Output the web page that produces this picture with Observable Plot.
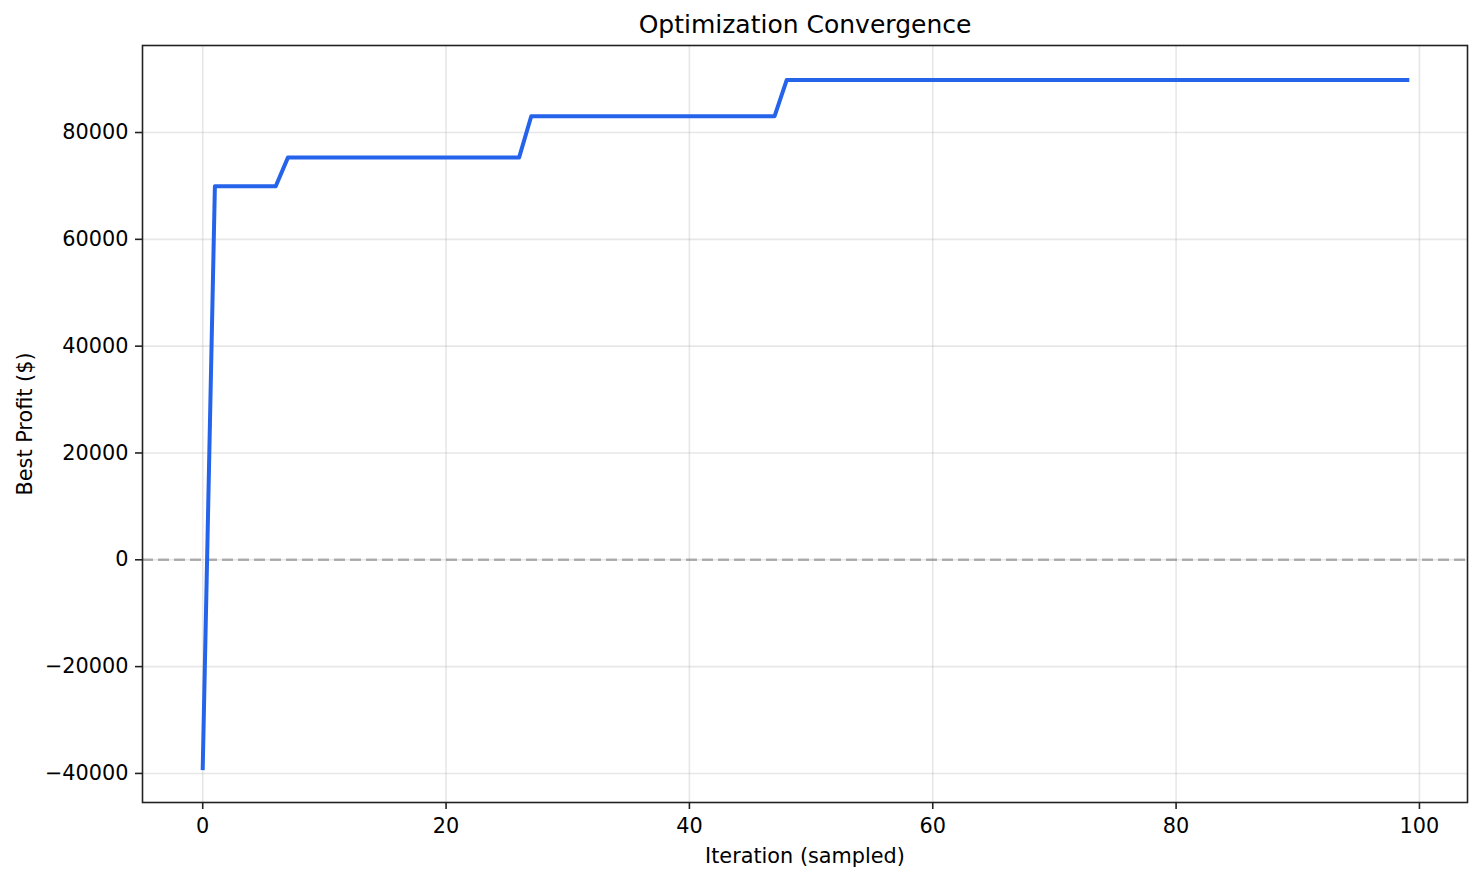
<!DOCTYPE html>
<html>
<head>
<meta charset="utf-8">
<script src="https://cdn.jsdelivr.net/npm/d3@7"></script>
<script src="https://cdn.jsdelivr.net/npm/@observablehq/plot@0.6"></script>
<style>
  html, body { margin: 0; padding: 0; background: #fff; }
  #chart { width: 1482px; height: 883px; }
</style>
</head>
<body>
<div id="chart"></div>
<script>
// Breakpoints of the best-profit curve (iteration, best profit)
const iterations = [0, 1, 6, 7, 26, 27, 47, 48, 99];
const bestProfit = [-39000, 69950, 69950, 75300, 75300, 83050, 83050, 89850, 89850];
const xTicks = [0, 20, 40, 60, 80, 100];
const yTicks = [-40000, -20000, 0, 20000, 40000, 60000, 80000];
const titleText = "Optimization Convergence";
const xLabel = "Iteration (sampled)";
const yLabel = "Best Profit ($)";

const data = iterations.map((x, i) => ({x, y: bestProfit[i]}));

const xMin = d3.min(iterations), xMax = d3.max(iterations);
const yMin = d3.min(bestProfit), yMax = d3.max(bestProfit);
const xm = (xMax - xMin) * 0.05, ym = (yMax - yMin) * 0.05;

const fmt = d => d < 0 ? "\u2212" + (-d) : String(d);

const chart = Plot.plot({
  width: 1482,
  height: 883,
  marginLeft: 142,
  marginRight: 15,
  marginTop: 45,
  marginBottom: 81,
  style: {fontFamily: "DejaVu Sans", fontSize: "20.8px", color: "#000", background: "#fff"},
  x: {domain: [xMin - xm, xMax + xm]},
  y: {domain: [yMin - ym, yMax + ym]},
  marks: [
    Plot.gridX(xTicks, {stroke: "#b0b0b0", strokeOpacity: 0.3, strokeWidth: 1.6}),
    Plot.gridY(yTicks, {stroke: "#b0b0b0", strokeOpacity: 0.3, strokeWidth: 1.6}),
    Plot.ruleY([0], {stroke: "#808080", strokeOpacity: 0.6, strokeWidth: 2.5, strokeDasharray: "11,5"}),
    Plot.line(data, {x: "x", y: "y", stroke: "#2563eb", strokeWidth: 4, strokeLinecap: "square", strokeLinejoin: "round"}),
    Plot.frame({stroke: "#222", strokeWidth: 1.6}),
    Plot.axisX(xTicks, {tickSize: 7, tickPadding: 9, tickFormat: fmt, label: null, fontSize: 20.8, stroke: "#222", strokeWidth: 1.6}),
    Plot.axisY(yTicks, {tickSize: 7, tickPadding: 7, tickFormat: fmt, label: null, fontSize: 20.8, stroke: "#222", strokeWidth: 1.6}),
    Plot.text([xLabel], {frameAnchor: "bottom", dy: 54, fontSize: 20.8, lineAnchor: "middle", textAnchor: "middle", fill: "#000"}),
    Plot.text([yLabel], {frameAnchor: "left", dx: -117, rotate: -90, fontSize: 20.8, lineAnchor: "middle", textAnchor: "middle", fill: "#000"}),
    Plot.text([titleText], {frameAnchor: "top", dy: -21, fontSize: 25, lineAnchor: "middle", textAnchor: "middle", fill: "#000"})
  ]
});
document.getElementById("chart").appendChild(chart);
</script>
</body>
</html>
